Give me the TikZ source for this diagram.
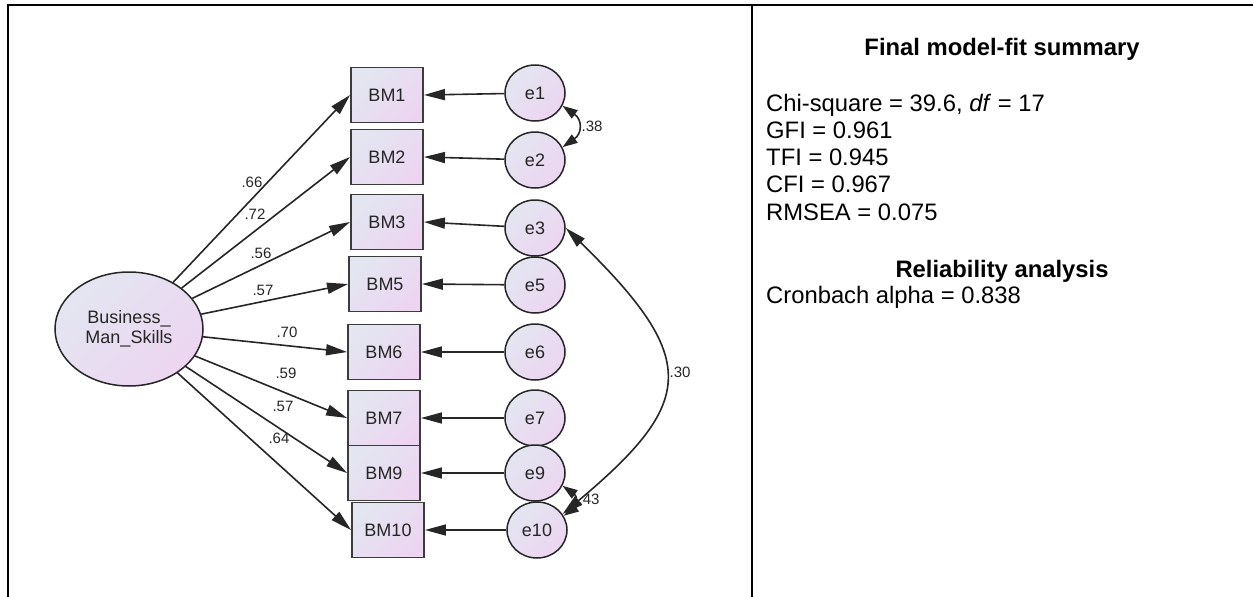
\documentclass[tikz,border=0pt]{standalone}
\usepackage{fontspec}
\setmainfont{Liberation Sans}
\usetikzlibrary{arrows.meta,shapes.geometric}
\definecolor{semblue}{HTML}{E3E6F1}
\definecolor{sempink}{HTML}{EDD5F1}
\definecolor{semline}{HTML}{262626}

\begin{document}
\begin{tikzpicture}[x=1pt, y=-1pt, every node/.style={font=\fontsize{18}{20}\selectfont, text=semline}, >={Triangle[length=21pt, width=11pt]},
	semfill/.style={top color=semblue, bottom color=sempink, shading angle=45},
	latent/.style={ellipse, draw=semline, line width=1.5pt, semfill, minimum width=148pt, minimum height=114pt, inner sep=0pt, align=center},
	indicator/.style={rectangle, draw=semline!90, line width=1.9pt, semfill, minimum width=72pt, minimum height=55pt, inner sep=0pt},
	errorvar/.style={ellipse, draw=semline, line width=1.5pt, semfill, minimum width=60pt, minimum height=56pt, inner sep=0pt},
	loading/.style={font=\fontsize{15}{16}\selectfont, inner sep=0pt},
	path/.style={draw=semline, line width=1.6pt},
	covtip/.style={{Triangle[length=15pt, width=10pt]}-{Triangle[length=15pt, width=10pt]}},
	panel/.style={font=\fontsize{23.8}{27}\selectfont, text=black, inner sep=0pt}]
	\useasboundingbox (0,0) rectangle (1253,597);
	% table frame
	\draw[line width=2.4pt] (7.7,597) -- (7.7,4.7) -- (1253,4.7);
	\draw[line width=2.2pt] (752,4.7) -- (752,597);
	% measurement model
	\node[latent] (bms) at (129,329) {Business\_\\Man\_Skills};
	\foreach \n/\x/\y in {1/387/95, 2/387/157, 3/387/222, 5/385/284, 6/384/352, 7/384/418, 9/384/473, 10/388/530} {
		\node[indicator] (BM\n) at (\x,\y) {BM\n};
	}
	\foreach \n/\x/\y in {1/535/93, 2/535/160, 3/535/228, 5/535/285, 6/535/352, 7/535/418, 9/535/473, 10/537/530} {
		\node[errorvar] (e\n) at (\x,\y) {e\n};
		\draw[path, ->] (e\n) -- (BM\n.east);
	}
	\foreach \n in {1,2,3,5,6,7,9,10} {\draw[path, ->] (bms) -- (BM\n.west);}
	\foreach \n/\x/\y/\v in {1/252/182/.66, 2/255/214/.72, 3/261/253/.56, 5/263/290/.57, 6/287/332/.70, 7/286/373/.59, 9/283/406/.57, 10/279/438/.64} {
		\node[loading] (w\n) at (\x,\y) {\v};
	}
	% error covariances
	\draw[path, covtip] (e1.-25) to[out=-35, in=35, looseness=1.5] (e2.25);
	\draw[path, covtip] (e9.-25) to[out=-35, in=35, looseness=1.5] (e10.28);
	\draw[path, <->] (e3.east) .. controls (700,359) and (696,402) .. (e10.32);
	\node[loading] (c12) at (592,126) {.38};
	\node[loading] (c310) at (680,372) {.30};
	\node[loading] (c910) at (589,499) {.43};
	% fit summary
	\node[panel, anchor=base, font=\fontsize{23.8}{27}\selectfont\bfseries] (fittitle) at (1002,55) {Final model-fit summary};
	\foreach \t [count=\i] in {{Chi-square = 39.6, \textit{df} = 17}, {GFI = 0.961}, {TFI = 0.945}, {CFI = 0.967}, {RMSEA = 0.075}} {
		\node[panel, anchor=base west] (fit\i) at (766,{111+27.3*(\i-1)}) {\t};
	}
	\node[panel, anchor=base, font=\fontsize{23.8}{27}\selectfont\bfseries] (reltitle) at (1002,277) {Reliability analysis};
	\node[panel, anchor=base west] (alpha) at (766,303) {Cronbach alpha = 0.838};
\end{tikzpicture}
\end{document}
